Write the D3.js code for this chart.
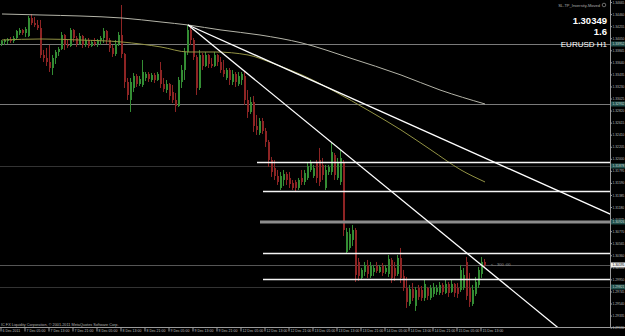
<!DOCTYPE html>
<html>
<head>
<meta charset="utf-8">
<script src="https://cdn.jsdelivr.net/npm/d3@7"></script>
<style>
html, body { margin: 0; padding: 0; background: #000; }
svg { display: block; font-family: "Liberation Sans", Arial, sans-serif; }
</style>
</head>
<body>
<script>
// EURUSD H1 bars, 6 Dec 2011 21:00 .. 15 Dec 2011 14:00
const opens = [1.33952,1.33986,1.34003,1.34020,1.34003,1.34054,1.34139,1.34190,1.34139,1.34088,
  1.34394,1.34309,1.34275,1.34224,1.33765,1.33714,1.33646,1.33544,1.33714,1.33816,
  1.33867,1.34105,1.33935,1.33918,1.34190,1.34054,1.33952,1.34088,1.33935,1.34020,
  1.33918,1.33986,1.33952,1.34020,1.34054,1.34173,1.34020,1.33884,1.33782,1.33952,
  1.34105,1.33782,1.33306,1.33000,1.33204,1.33408,1.33272,1.33255,1.33374,1.33442,
  1.33340,1.33425,1.33340,1.33510,1.33272,1.33170,1.33272,1.33136,1.33000,1.32898,
  1.33306,1.33510,1.33816,1.34190,1.34020,1.33731,1.33204,1.33765,1.33578,1.33765,
  1.33612,1.33578,1.33765,1.33646,1.33510,1.33374,1.33510,1.33306,1.33442,1.33272,
  1.33340,1.33408,1.33000,1.32796,1.32966,1.32558,1.32439,1.32643,1.32473,1.32286,
  1.31980,1.31844,1.31708,1.31504,1.31640,1.31742,1.31674,1.31589,1.31606,1.31504,
  1.31674,1.31606,1.31674,1.31810,1.31708,1.31946,1.31980,1.31895,1.31504,1.31776,
  1.31776,1.32065,1.31674,1.31606,1.31946,1.30416,1.30484,1.30620,1.30790,1.30246,
  1.29974,1.30076,1.30195,1.30008,1.30076,1.30178,1.30076,1.30178,1.30076,1.30042,
  1.30280,1.30144,1.30042,1.30314,1.30008,1.29804,1.29532,1.29787,1.29498,1.29804,
  1.29770,1.29634,1.29804,1.29634,1.29702,1.29736,1.29719,1.29855,1.29719,1.29872,
  1.29736,1.29872,1.29804,1.29770,1.29804,1.30246,1.29804,1.29532,1.29702,1.29855,
  1.30042,1.30246];
const highs = [1.34020,1.34037,1.34054,1.34071,1.34088,1.34190,1.34224,1.34207,1.34241,1.34428,
  1.34462,1.34411,1.34360,1.34360,1.33850,1.33884,1.33935,1.33765,1.33850,1.33901,
  1.34156,1.34122,1.34020,1.34224,1.34207,1.34088,1.34139,1.34105,1.34054,1.34054,
  1.34020,1.34054,1.34037,1.34088,1.34224,1.34190,1.34054,1.33935,1.34020,1.34156,
  1.34615,1.33799,1.33374,1.33374,1.33459,1.33442,1.33408,1.33680,1.33476,1.33476,
  1.33459,1.33459,1.33476,1.33646,1.33374,1.33340,1.33289,1.33255,1.33119,1.33391,
  1.33595,1.33884,1.34275,1.34241,1.34054,1.33765,1.33850,1.33799,1.33816,1.33782,
  1.33714,1.33816,1.33782,1.33731,1.33680,1.33544,1.33544,1.33510,1.33476,1.33476,
  1.33476,1.33476,1.33170,1.33051,1.33068,1.32745,1.32694,1.32694,1.32524,1.32320,
  1.32031,1.31980,1.31810,1.31776,1.31810,1.31776,1.31776,1.31640,1.31640,1.31674,
  1.31810,1.31810,1.31929,1.31980,1.31895,1.31980,1.32184,1.32014,1.31895,1.31895,
  1.32269,1.32099,1.32014,1.32150,1.31980,1.30824,1.30824,1.30875,1.30824,1.30314,
  1.30144,1.30246,1.30280,1.30246,1.30195,1.30246,1.30195,1.30229,1.30195,1.30365,
  1.30314,1.30246,1.30365,1.30484,1.30110,1.29991,1.29855,1.29889,1.29821,1.29855,
  1.29838,1.29940,1.29821,1.29855,1.29889,1.29855,1.29906,1.29889,1.29940,1.29906,
  1.29940,1.29889,1.29889,1.30195,1.30144,1.30331,1.30059,1.29855,1.29991,1.30161,
  1.30331,1.30297];
const lows = [1.33918,1.33935,1.33952,1.33969,1.33969,1.34037,1.34105,1.34105,1.34071,1.34071,
  1.34275,1.34241,1.34190,1.33714,1.33646,1.33578,1.33476,1.33425,1.33612,1.33748,
  1.33850,1.33850,1.33884,1.33901,1.33986,1.33901,1.33935,1.33884,1.33901,1.33884,
  1.33901,1.33918,1.33901,1.33935,1.33969,1.33952,1.33816,1.33731,1.33748,1.33918,
  1.33714,1.33204,1.33000,1.32796,1.33136,1.33221,1.33238,1.33221,1.33323,1.33306,
  1.33306,1.33289,1.33323,1.33204,1.33136,1.33119,1.33000,1.32949,1.32796,1.32881,
  1.33204,1.33340,1.33765,1.33935,1.33680,1.33085,1.33170,1.33510,1.33561,1.33544,
  1.33544,1.33561,1.33578,1.33459,1.33391,1.33340,1.33255,1.33255,1.33221,1.33238,
  1.33255,1.32915,1.32694,1.32762,1.32456,1.32405,1.32405,1.32422,1.32201,1.31861,
  1.31691,1.31640,1.31555,1.31470,1.31538,1.31555,1.31504,1.31470,1.31453,1.31470,
  1.31555,1.31555,1.31640,1.31776,1.31674,1.31589,1.31538,1.31640,1.31470,1.31725,
  1.31725,1.31640,1.31640,1.31555,1.30688,1.30382,1.30450,1.30518,1.29906,1.29923,
  1.29957,1.30008,1.29974,1.29974,1.30008,1.30059,1.30059,1.30008,1.30042,1.29991,
  1.29889,1.29923,1.30008,1.29889,1.29753,1.29464,1.29498,1.29583,1.29413,1.29600,
  1.29583,1.29583,1.29600,1.29600,1.29651,1.29685,1.29685,1.29685,1.29702,1.29651,
  1.29719,1.29651,1.29634,1.29736,1.29770,1.29600,1.29481,1.29498,1.29668,1.29804,
  1.29974,1.30144];
const closes = [1.34003,1.34020,1.34037,1.34003,1.34054,1.34173,1.34190,1.34139,1.34207,1.34394,
  1.34309,1.34275,1.34224,1.33765,1.33714,1.33646,1.33544,1.33714,1.33816,1.33867,
  1.34105,1.33935,1.33918,1.34190,1.34054,1.33952,1.34088,1.33935,1.34020,1.33918,
  1.33986,1.33952,1.34020,1.34054,1.34173,1.34020,1.33884,1.33782,1.33952,1.34105,
  1.33782,1.33306,1.33085,1.33306,1.33408,1.33272,1.33357,1.33476,1.33442,1.33357,
  1.33425,1.33340,1.33442,1.33272,1.33187,1.33272,1.33068,1.33000,1.32898,1.33340,
  1.33510,1.33816,1.34190,1.34020,1.33731,1.33204,1.33765,1.33578,1.33765,1.33612,
  1.33578,1.33765,1.33646,1.33510,1.33442,1.33510,1.33340,1.33442,1.33306,1.33408,
  1.33442,1.33000,1.32796,1.32966,1.32558,1.32490,1.32643,1.32473,1.32286,1.31980,
  1.31776,1.31708,1.31606,1.31708,1.31742,1.31640,1.31572,1.31504,1.31504,1.31640,
  1.31606,1.31759,1.31878,1.31929,1.31844,1.31674,1.31606,1.31725,1.31810,1.31861,
  1.32116,1.31725,1.31946,1.32014,1.30790,1.30756,1.30722,1.30790,1.30025,1.30008,
  1.30110,1.30195,1.30042,1.30178,1.30144,1.30093,1.30161,1.30059,1.30144,1.30297,
  1.29974,1.30008,1.30314,1.29974,1.29804,1.29566,1.29787,1.29634,1.29770,1.29651,
  1.29634,1.29872,1.29668,1.29804,1.29821,1.29804,1.29855,1.29736,1.29872,1.29719,
  1.29872,1.29719,1.29702,1.30110,1.30025,1.29668,1.29566,1.29770,1.29906,1.30110,
  1.30246,1.30195];

// moving averages, read at a few bars
const slowMaBars = [0, 13, 26, 40, 53, 62, 73, 86, 100, 116, 133, 146, 161];
const slowMa = [1.34462, 1.34445, 1.34428, 1.34394, 1.34326, 1.34275, 1.34190, 1.34105, 1.33969, 1.33714, 1.33425, 1.33170, 1.32932];
const fastMaBars = [0, 13, 26, 40, 53, 62, 71, 82, 90, 96, 100, 110, 123, 133, 143, 153, 161];
const fastMa = [1.34020, 1.34037, 1.34020, 1.33986, 1.33901, 1.33816, 1.33816, 1.33765, 1.33629, 1.33510, 1.33425, 1.33170, 1.32796, 1.32490, 1.32150, 1.31810, 1.31606];

// time axis
const timeLabels = ["6 Dec 2011", "7 Dec 05:00", "7 Dec 13:00", "7 Dec 21:00", "8 Dec 05:00", "8 Dec 13:00",
  "8 Dec 21:00", "9 Dec 05:00", "9 Dec 13:00", "9 Dec 21:00", "12 Dec 05:00", "12 Dec 13:00",
  "12 Dec 21:00", "13 Dec 05:00", "13 Dec 13:00", "13 Dec 21:00", "14 Dec 05:00", "14 Dec 13:00",
  "14 Dec 21:00", "15 Dec 05:00", "15 Dec 13:00"];
const timeLabelBars = [0, 8, 16, 24, 32, 40, 48, 56, 64, 72, 80, 88, 96, 104, 112, 120, 128, 136, 144, 152, 160];

// price axis
const priceTicks = [1.29130, 1.29335, 1.29540, 1.29745, 1.29950, 1.30155, 1.30360, 1.30565, 1.30770, 1.30975,
  1.31180, 1.31385, 1.31590, 1.31795, 1.32000, 1.32205, 1.32410, 1.32615, 1.32820, 1.33025,
  1.33230, 1.33435, 1.33640, 1.33845, 1.34050, 1.34255, 1.34460, 1.34665];

// objects on the chart
const hLinePrices = [1.33952, 1.32932, 1.31878, 1.29821];
const bidPrice = 1.30195;
const rayBars = [85, 87, 87, 87];
const rayPrices = [1.31946, 1.31453, 1.30399, 1.29957];
const grayRayBar = 86;
const grayRayPrice = 1.30926;
const trendStart = [62, 1.34275];
const trendEnds = [[161, 1.32014], [161, 1.30144]];
const markedPrices = [1.33952, 1.32932, 1.31878, 1.30926, 1.29821];

const W = 625, H = 336;
const plotW = 610, plotH = 327.6;
const fontAx = "'Liberation Sans', Arial, sans-serif";

const svg = d3.select("body").append("svg")
  .attr("width", W)
  .attr("height", H);

svg.append("rect").attr("width", W).attr("height", H).attr("fill", "#000");

const x = d3.scaleLinear().domain([0, 161]).range([2, 485]);
const y = d3.scaleLinear().domain([1.34700, 1.29130]).range([0, plotH]);

svg.append("clipPath").attr("id", "plotclip")
  .append("rect").attr("width", plotW).attr("height", plotH);

const plot = svg.append("g").attr("clip-path", "url(#plotclip)");

// full width horizontal lines
plot.selectAll(".hline")
  .data(hLinePrices)
  .enter()
  .append("line")
  .attr("x1", 0).attr("x2", plotW)
  .attr("y1", d => Math.round(y(d)) + 0.5)
  .attr("y2", d => Math.round(y(d)) + 0.5)
  .attr("stroke", (d, i) => (i < 2 ? "#7a7a7a" : "#333"))
  .attr("stroke-width", 1);

plot.append("line")
  .attr("x1", 0).attr("x2", plotW)
  .attr("y1", Math.round(y(bidPrice)) + 0.5)
  .attr("y2", Math.round(y(bidPrice)) + 0.5)
  .attr("stroke", "#555");

// candles
const bars = d3.range(opens.length).map(i => ({ i, o: opens[i], h: highs[i], l: lows[i], c: closes[i] }));
const upCol = "#348d34";
const downCol = "#8e2424";

plot.selectAll(".wick")
  .data(bars)
  .enter()
  .append("line")
  .attr("x1", d => x(d.i) - 0.5)
  .attr("x2", d => x(d.i) - 0.5)
  .attr("y1", d => y(d.h))
  .attr("y2", d => y(d.l))
  .attr("stroke", d => (d.c >= d.o ? upCol : downCol))
  .attr("stroke-width", 1);

plot.selectAll(".body")
  .data(bars)
  .enter()
  .append("rect")
  .attr("x", d => x(d.i) - 1)
  .attr("width", 2)
  .attr("y", d => y(Math.max(d.o, d.c)))
  .attr("height", d => Math.max(1, Math.abs(y(d.o) - y(d.c))))
  .attr("fill", d => (d.c >= d.o ? upCol : downCol));

// moving averages
const maLine = d3.line()
  .x(d => x(d[0]))
  .y(d => y(d[1]))
  .curve(d3.curveMonotoneX);

plot.append("path")
  .attr("d", maLine(slowMaBars.map((b, i) => [b, slowMa[i]])))
  .attr("fill", "none")
  .attr("stroke", "#b4b4a8")
  .attr("stroke-width", 1);

plot.append("path")
  .attr("d", maLine(fastMaBars.map((b, i) => [b, fastMa[i]])))
  .attr("fill", "none")
  .attr("stroke", "#939344")
  .attr("stroke-width", 1);

// horizontal rays
plot.append("line")
  .attr("x1", x(grayRayBar)).attr("x2", plotW)
  .attr("y1", y(grayRayPrice)).attr("y2", y(grayRayPrice))
  .attr("stroke", "#8c8c8c")
  .attr("stroke-width", 3);

plot.selectAll(".ray")
  .data(rayPrices)
  .enter()
  .append("line")
  .attr("x1", (d, i) => x(rayBars[i])).attr("x2", plotW)
  .attr("y1", d => Math.round(y(d)) + 0.5)
  .attr("y2", d => Math.round(y(d)) + 0.5)
  .attr("stroke", "#f4f4f4")
  .attr("stroke-width", 1.3);

// trend lines (rays to the right)
trendEnds.forEach(e => {
  const x0 = x(trendStart[0]), y0 = y(trendStart[1]);
  const x1 = x(e[0]), y1 = y(e[1]);
  const k = (y1 - y0) / (x1 - x0);
  const xe = 700;
  plot.append("line")
    .attr("x1", x0).attr("y1", y0)
    .attr("x2", xe).attr("y2", y0 + k * (xe - x0))
    .attr("stroke", "#ffffff")
    .attr("stroke-width", 1.3);
});

// small note near last bar
plot.append("text")
  .attr("x", x(161) + 6)
  .attr("y", y(bidPrice) + 1.3)
  .attr("fill", "#9a9a9a")
  .attr("font-size", "4px")
  .text("<-- 300 :00");

// axes frame
svg.append("line")
  .attr("x1", plotW + 0.5).attr("x2", plotW + 0.5)
  .attr("y1", 0).attr("y2", 328)
  .attr("stroke", "#9a9a9a");
svg.append("line")
  .attr("x1", 0).attr("x2", W)
  .attr("y1", 327.5).attr("y2", 327.5)
  .attr("stroke", "#9a9a9a");

// price axis
const yAxis = d3.axisRight(y)
  .tickValues(priceTicks)
  .tickSize(1.5)
  .tickPadding(0.5)
  .tickFormat(d3.format(".5f"));

const yAxisG = svg.append("g")
  .attr("transform", `translate(${plotW + 0.5},0)`)
  .call(yAxis);
yAxisG.select(".domain").remove();
yAxisG.selectAll("line").attr("stroke", "#9a9a9a");
yAxisG.selectAll("text")
  .attr("fill", "#bdbdbd")
  .attr("font-size", "3.3px")
  .attr("font-family", fontAx);

// marked prices on the axis
const marks = svg.selectAll(".mark")
  .data(markedPrices)
  .enter()
  .append("g")
  .attr("transform", d => `translate(${plotW + 1},${y(d)})`);
marks.append("rect")
  .attr("x", 0).attr("y", -2.5)
  .attr("width", 14).attr("height", 5)
  .attr("fill", "#21504c");
marks.append("text")
  .attr("x", 1.5).attr("y", 1.2)
  .attr("fill", "#c8d8d4")
  .attr("font-size", "3.3px")
  .attr("font-family", fontAx)
  .text(d => d3.format(".5f")(d));

const bidMark = svg.append("g")
  .attr("transform", `translate(${plotW + 1},${y(bidPrice)})`);
bidMark.append("rect")
  .attr("x", 0).attr("y", -2.5)
  .attr("width", 14).attr("height", 5)
  .attr("fill", "#f0f0f0");
bidMark.append("text")
  .attr("x", 1.5).attr("y", 1.2)
  .attr("fill", "#000")
  .attr("font-size", "3.3px")
  .attr("font-family", fontAx)
  .text(d3.format(".5f")(bidPrice));

// time axis
const xAxis = d3.axisBottom(x)
  .tickValues(timeLabelBars)
  .tickSize(4)
  .tickFormat((d, i) => timeLabels[i]);

const xAxisG = svg.append("g")
  .attr("transform", "translate(-1.5,327.5)")
  .call(xAxis);
xAxisG.select(".domain").remove();
xAxisG.selectAll("line").attr("stroke", "#9a9a9a");
xAxisG.selectAll("text")
  .attr("text-anchor", "start")
  .attr("x", 1.5)
  .attr("y", 2)
  .attr("dy", "0.71em")
  .attr("fill", "#bdbdbd")
  .attr("font-size", "3.5px")
  .attr("font-family", fontAx);

// copyright
svg.append("text")
  .attr("x", 1)
  .attr("y", 325.5)
  .attr("fill", "#b0b0b0")
  .attr("font-size", "3.8px")
  .text("IC FX Liquidity Corporation, \u00a9 2001-2011 MetaQuotes Software Corp.");

// top right indicator text
svg.append("text")
  .attr("x", 600).attr("y", 6.5)
  .attr("text-anchor", "end")
  .attr("fill", "#b0b0b0")
  .attr("font-size", "4px")
  .text("SL-TP_Inversity-Moved");
svg.append("circle")
  .attr("cx", 604).attr("cy", 5).attr("r", 1.8)
  .attr("fill", "none").attr("stroke", "#b0b0b0").attr("stroke-width", 0.6);

svg.append("text")
  .attr("x", 607).attr("y", 23.5)
  .attr("text-anchor", "end")
  .attr("fill", "#ffffff")
  .attr("font-size", "9.5px")
  .attr("font-weight", "bold")
  .text("1.30349");
svg.append("text")
  .attr("x", 607).attr("y", 35)
  .attr("text-anchor", "end")
  .attr("fill", "#ffffff")
  .attr("font-size", "9.5px")
  .attr("font-weight", "bold")
  .text("1.6");
svg.append("text")
  .attr("x", 607).attr("y", 46.5)
  .attr("text-anchor", "end")
  .attr("fill", "#ffffff")
  .attr("font-size", "8px")
  .text("EURUSD H1");
</script>
</body>
</html>
